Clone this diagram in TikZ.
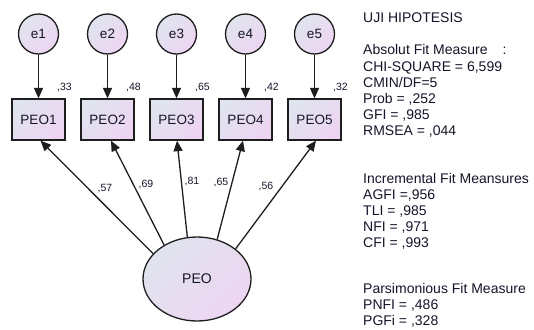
\documentclass[tikz,border=0pt]{standalone}
\usepackage{fontspec}
\setmainfont{Liberation Sans}
\usetikzlibrary{arrows.meta,shapes.geometric}
\definecolor{gradA}{HTML}{E0E4EE}
\definecolor{gradB}{HTML}{EDD5F2}
\definecolor{lineC}{HTML}{1E1E1E}
\definecolor{txtC}{HTML}{15152A}
\tikzset{
  grad/.style={top color=gradA, bottom color=gradB, shading angle=45},
  errc/.style={circle, draw=lineC, line width=1.3pt, grad, minimum size=40pt, inner sep=0pt, font=\fontsize{13.5}{15}\selectfont, text=txtC},
  obsbox/.style={rectangle, draw=lineC, line width=1.3pt, grad, minimum width=53pt, minimum height=41pt, inner sep=0pt, font=\fontsize{13.5}{15}\selectfont, text=txtC},
  latent/.style={ellipse, draw=lineC, line width=1.3pt, grad, minimum width=108pt, minimum height=84pt, inner sep=0pt, font=\fontsize{14}{16}\selectfont, text=txtC},
  arr/.style={draw=lineC, line width=1.3pt, -{Triangle[length=10.5pt,width=9pt]}},
  lab/.style={inner sep=0pt, font=\fontsize{10.5}{12}\selectfont, text=txtC},
  info/.style={anchor=base west, inner sep=0pt, font=\fontsize{14}{16}\selectfont, text=txtC},
}
\begin{document}
\begin{tikzpicture}[x=1pt,y=-1pt]
\useasboundingbox[fill=white] (0,0) rectangle (534,329);

% error terms
\node[errc] (e1) at (38.5,34) {e1};
\node[errc] (e2) at (107.5,34) {e2};
\node[errc] (e3) at (176.5,34) {e3};
\node[errc] (e4) at (245.5,34) {e4};
\node[errc] (e5) at (314.5,34) {e5};

% observed variables
\node[obsbox] (PEO1) at (38.5,119.5) {PEO1};
\node[obsbox] (PEO2) at (107.5,119.5) {PEO2};
\node[obsbox] (PEO3) at (176.5,119.5) {PEO3};
\node[obsbox] (PEO4) at (245.5,119.5) {PEO4};
\node[obsbox] (PEO5) at (314.5,119.5) {PEO5};

% latent
\node[latent] (PEO) at (197,279) {PEO};

% error arrows
\draw[arr] (e1) -- (PEO1);
\draw[arr] (e2) -- (PEO2);
\draw[arr] (e3) -- (PEO3);
\draw[arr] (e4) -- (PEO4);
\draw[arr] (e5) -- (PEO5);

% loadings
\draw[arr] (PEO.150) -- ([xshift=2pt]PEO1.south);
\draw[arr] (PEO.134) -- ([xshift=3.5pt]PEO2.south);
\draw[arr] (PEO.103) -- ([xshift=0.5pt]PEO3.south);
\draw[arr] (PEO.63) -- ([xshift=-2.5pt]PEO4.south);
\draw[arr] (PEO.38) -- ([xshift=1.5pt]PEO5.south);

% R-squared labels
\node[lab] (r1) at (64.5,88) {,33};
\node[lab] (r2) at (133.5,88) {,48};
\node[lab] (r3) at (202.5,88) {,65};
\node[lab] (r4) at (271.5,88) {,42};
\node[lab] (r5) at (340.5,88) {,32};

% loading labels
\node[lab] (p1) at (105,189) {,57};
\node[lab] (p2) at (146,185) {,69};
\node[lab] (p3) at (192,182) {,81};
\node[lab] (p4) at (221,183) {,65};
\node[lab] (p5) at (266,187) {,56};

% fit information
\node[info] (t1) at (363,23) {UJI HIPOTESIS};
\node[info] (t2) at (363,55) {Absolut Fit Measure\hspace{15pt}:};
\node[info] (t3) at (363,71) {CHI-SQUARE = 6,599};
\node[info] (t4) at (363,87) {CMIN/DF=5};
\node[info] (t5) at (363,103) {Prob = ,252};
\node[info] (t6) at (363,119) {GFI = ,985};
\node[info] (t7) at (363,135) {RMSEA = ,044};
\node[info] (t8) at (363,183) {Incremental Fit Meansures};
\node[info] (t9) at (363,199) {AGFI =,956};
\node[info] (t10) at (363,215) {TLI = ,985};
\node[info] (t11) at (363,231) {NFI = ,971};
\node[info] (t12) at (363,247) {CFI = ,993};
\node[info] (t13) at (363,293) {Parsimonious Fit Measure};
\node[info] (t14) at (363,309) {PNFI = ,486};
\node[info] (t15) at (363,325) {PGFi = ,328};
\end{tikzpicture}
\end{document}
